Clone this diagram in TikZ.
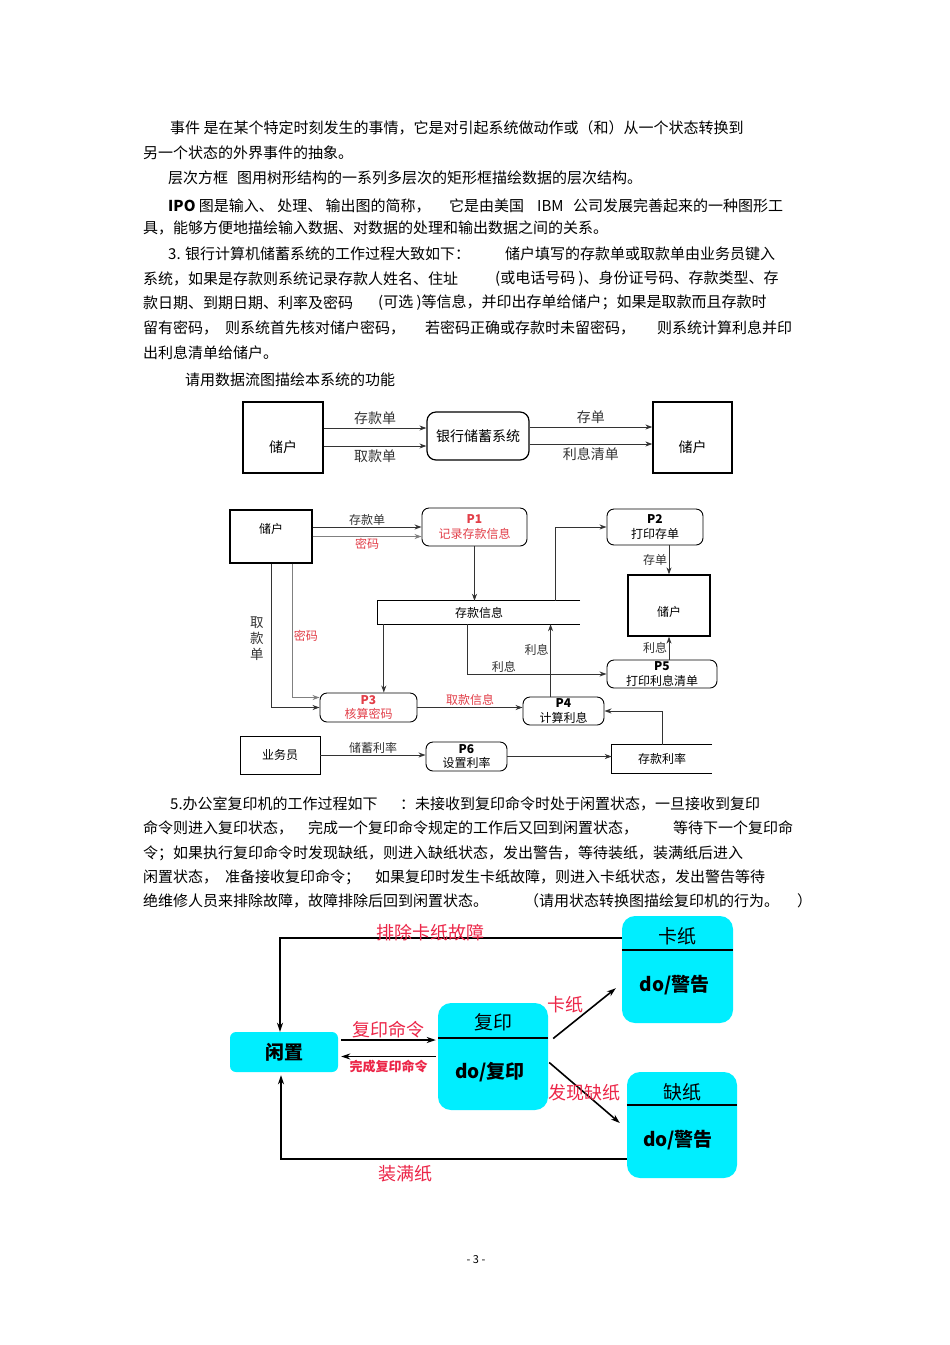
\documentclass[tikz,border=0pt]{standalone}
\usepackage{fontspec}
\setmainfont{Noto Sans CJK SC}
\usepackage{tikz}
\usetikzlibrary{arrows.meta, positioning, calc}
\definecolor{dfdred}{RGB}{226,62,72}
\definecolor{stred}{RGB}{236,38,72}
\definecolor{stcyan}{RGB}{0,238,255}
\newcommand{\dfdfont}{\fontsize{12}{14.5}\selectfont}
\newcommand{\ctxfont}{\fontsize{14}{16}\selectfont}

\begin{document}
\begin{tikzpicture}[x=1pt, y=-1pt,
        txt/.style={anchor=west, inner sep=0pt, font=\fontsize{15}{17}\selectfont},
        ext/.style={rectangle, draw, line width=1.3pt, inner sep=1pt},
        proc/.style={rectangle, draw, rounded corners=7pt, line width=0.9pt, align=center, inner sep=1pt},
        lab/.style={inner sep=1.5pt, font=\dfdfont},
        arr/.style={-{Stealth[length=7pt, width=5pt]}, line width=0.9pt, black!80},
        state/.style={rectangle, fill=stcyan, rounded corners=13pt, inner sep=0pt},
        stxt/.style={inner sep=0pt, font=\fontsize{19}{21}\selectfont},
        sep/.style={line width=1.6pt},
        sarr/.style={-{Stealth[length=9pt, width=6pt]}, line width=1.6pt},
        slab/.style={inner sep=1pt, text=stred, font=\fontsize{18}{20}\selectfont},
    ]
    \fill[white] (0,0) rectangle (950,1345);
    \useasboundingbox (0,0) rectangle (950,1345);

    % 正文
    \foreach \px/\py/\ptext [count=\i] in {
        170/128/{事件 是在某个特定时刻发生的事情，它是对引起系统做动作或（和）从一个状态转换到},
        143/153/{另一个状态的外界事件的抽象。},
        168/178/{层次方框},
        237/178/{图用树形结构的一系列多层次的矩形框描绘数据的层次结构。},
        168/206/{\textbf{IPO} 图是输入、 处理、 输出图的简称，},
        449/206/{它是由美国},
        537/206/{IBM},
        573/206/{公司发展完善起来的一种图形工},
        143/228/{具，能够方便地描绘输入数据、对数据的处理和输出数据之间的关系。},
        168/254/{3. 银行计算机储蓄系统的工作过程大致如下：},
        505/254/{储户填写的存款单或取款单由业务员键入},
        143/279/{系统，如果是存款则系统记录存款人姓名、住址},
        495/279/{(或电话号码 )、身份证号码、存款类型、存},
        143/303/{款日期、到期日期、利率及密码},
        378/303/{(可选 )等信息，并印出存单给储户；如果是取款而且存款时},
        143/328/{留有密码，},
        225/328/{则系统首先核对储户密码，},
        425/328/{若密码正确或存款时未留密码，},
        657/328/{则系统计算利息并印},
        143/353/{出利息清单给储户。},
        185/380/{请用数据流图描绘本系统的功能},
        170/804/{5.办公室复印机的工作过程如下},
        400/804/{：未接收到复印命令时处于闲置状态，一旦接收到复印},
        143/828/{命令则进入复印状态，},
        308/828/{完成一个复印命令规定的工作后又回到闲置状态，},
        673/828/{等待下一个复印命},
        143/853/{令；如果执行复印命令时发现缺纸，则进入缺纸状态，发出警告，等待装纸，装满纸后进入},
        143/877/{闲置状态，},
        225/877/{准备接收复印命令；},
        375/877/{如果复印时发生卡纸故障，则进入卡纸状态，发出警告等待},
        143/901/{绝维修人员来排除故障，故障排除后回到闲置状态。},
        524/901/{（请用状态转换图描绘复印机的行为。},
        797/901/{）}}
        \node[txt] (para\i) at (\px,\py) {\ptext};

    % 顶层数据流图
    \node[ext, minimum width=80pt, minimum height=71pt, font=\ctxfont] (cu1) at (283,437.5) {\raisebox{-15pt}[0pt][0pt]{储户}};
    \node[proc, minimum width=102pt, minimum height=48pt, rounded corners=9pt, line width=1.2pt, font=\ctxfont] (bank) at (478,436) {银行储蓄系统};
    \node[ext, minimum width=79pt, minimum height=71pt, font=\ctxfont] (cu2) at (692.5,437.5) {\raisebox{-15pt}[0pt][0pt]{储户}};
    \draw[arr] ($(cu1.east)+(0,-9.5)$) -- node[above, font=\ctxfont]{存款单} ($(cu1.east -| bank.west)+(0,-9.5)$);
    \draw[arr] ($(cu1.east)+(0,8.5)$) -- node[below, font=\ctxfont]{取款单} ($(cu1.east -| bank.west)+(0,8.5)$);
    \draw[arr] ($(bank.east)+(0,-9)$) -- node[above, font=\ctxfont]{存单} ($(bank.east -| cu2.west)+(0,-9)$);
    \draw[arr] ($(bank.east)+(0,8)$) -- node[below, font=\ctxfont]{利息清单} ($(bank.east -| cu2.west)+(0,8)$);

    % 细化数据流图
    \node[ext, minimum width=82pt, minimum height=53pt, font=\dfdfont] (c3) at (271,536.5) {\raisebox{3.5pt}[0pt][0pt]{储户}};
    \node[proc, text=dfdred, minimum width=105pt, minimum height=38pt, font=\dfdfont] (P1) at (474.5,527) {\textbf{P1}\\记录存款信息};
    \node[lab, minimum width=202pt, minimum height=23pt] (store) at (479,612.5) {存款信息};
    \draw[line width=0.9pt] (store.north east) -- (store.north west) -- (store.south west) -- (store.south east);
    \node[proc, minimum width=96pt, minimum height=36pt, font=\dfdfont] (P2) at (655,527) {\textbf{P2}\\打印存单};
    \node[ext, minimum width=82pt, minimum height=61pt, font=\dfdfont] (c4) at (669,605.5) {\raisebox{-11pt}[0pt][0pt]{储户}};
    \node[proc, minimum width=110pt, minimum height=28pt, font=\dfdfont] (P5) at (662,674) {\textbf{P5}\\打印利息清单};
    \node[proc, minimum width=81pt, minimum height=28pt, font=\dfdfont] (P4) at (563.5,711) {\textbf{P4}\\计算利息};
    \node[proc, text=dfdred, minimum width=97pt, minimum height=29pt, font=\dfdfont] (P3) at (368.5,707.5) {\textbf{P3}\\核算密码};
    \node[lab, minimum width=100pt, minimum height=28pt] (rate) at (662,759) {存款利率};
    \draw[line width=0.9pt] (rate.north east) -- (rate.north west) -- (rate.south west) -- (rate.south east);
    \node[ext, minimum width=80pt, minimum height=38pt, line width=0.9pt, font=\dfdfont] (clerk) at (280,755) {业务员};
    \node[proc, minimum width=81pt, minimum height=29pt, font=\dfdfont] (P6) at (466.5,756.5) {\textbf{P6}\\设置利率};

    % 储户 -> P1
    \draw[arr] (c3.east |- P1.west) -- node[lab, above]{存款单} (P1.west);
    \draw[arr, gray] (c3.east) -- node[lab, below, text=dfdred]{密码} (c3.east -| P1.west);
    % P1 -> 存款信息
    \draw[arr] (P1.south) -- (P1.south |- store.north);
    % 存款信息 -> P2 -> 储户
    \draw[arr] ($(store.north east)+(-25,0)$) |- (P2.west);
    \draw[arr] (c4.north |- P2.south) -- node[lab, left]{存单} (c4.north);
    % P5 -> 储户
    \draw[arr] (c4.south |- P5.north) -- node[lab, left]{利息} (c4.south);
    % 存款信息 -> P5
    \draw[arr] ($(store.south west)+(90,0)$) |- node[lab, above, pos=0.63]{利息} (P5.west);
    % P4 -> 存款信息
    \coordinate (p4up) at ($(P4.north west)+(28,0)$);
    \draw[arr] (p4up) -- node[lab, left, pos=0.65]{利息} (p4up |- store.south);
    % 存款信息 -> P3
    \coordinate (s3) at ($(store.south west)+(6,0)$);
    \draw[arr] (s3) -- (s3 |- P3.north);
    % 储户 -> P3（取款单，密码）
    \draw[arr] (c3.south) |- node[left, pos=0.26, align=center, inner sep=7pt, font=\fontsize{13.5}{16}\selectfont]{取\\款\\单} (P3.west);
    \draw[arr, gray] ($(c3.south)+(21,0)$) |- node[lab, right, pos=0.27, text=dfdred]{密码} ($(P3.west)+(0,-10)$);
    % P3 -> P4
    \draw[arr] (P3.east) -- node[lab, above, text=dfdred]{取款信息} (P3.east -| P4.west);
    % 存款利率 -> P4
    \draw[arr] (rate.north) |- (P4.east);
    % 业务员 -> P6 -> 存款利率
    \draw[arr] (clerk.east) -- node[lab, above]{储蓄利率} (clerk.east -| P6.west);
    \draw[arr] (P6.east) -- (P6.east -| rate.west);

    % 状态转换图
    \node[state, minimum width=108pt, minimum height=40pt, rounded corners=6pt, font=\fontsize{19}{21}\selectfont\bfseries] (idle) at (284,1052) {闲置};
    \node[state, minimum width=110pt, minimum height=107pt] (copy) at (493,1056.5) {};
    \draw[sep] ($(copy.north west)+(0,35)$) -- ($(copy.north east)+(0,35)$);
    \node[stxt] (copyT) at ($(copy.north)+(0,19)$) {复印};
    \node[stxt, font=\fontsize{19}{21}\selectfont\bfseries] (copyB) at ($(copy.north)+(-3,69)$) {do/复印};
    \node[state, minimum width=111pt, minimum height=107pt] (jam) at (677.5,969.5) {};
    \draw[sep] ($(jam.north west)+(0,34)$) -- ($(jam.north east)+(0,34)$);
    \node[stxt] (jamT) at ($(jam.north)+(0,20)$) {卡纸};
    \node[stxt, font=\fontsize{19}{21}\selectfont\bfseries] (jamB) at ($(jam.north)+(-3,69)$) {do/警告};
    \node[state, minimum width=110pt, minimum height=106pt] (nop) at (682,1125) {};
    \draw[sep] ($(nop.north west)+(0,33)$) -- ($(nop.north east)+(0,33)$);
    \node[stxt] (nopT) at ($(nop.north)+(0,20)$) {缺纸};
    \node[stxt, font=\fontsize{19}{21}\selectfont\bfseries] (nopB) at ($(nop.north)+(-4,68)$) {do/警告};

    % 闲置 <-> 复印
    \draw[sarr] ($(idle.east)+(3,-12)$) -- node[slab, above]{复印命令} ($(idle.east -| copy.west)+(-2,-12)$);
    \draw[sarr] ($(copy.west)+(-2,0)$) -- node[below, inner sep=3pt, text=stred, font=\fontsize{13}{15}\selectfont\bfseries]{完成复印命令} ($(copy.west -| idle.east)+(3,0)$);
    % 复印 -> 卡纸 / 缺纸
    \draw[sarr] ($(copy.east)+(5,-18)$) -- node[slab, midway, above left, inner sep=0pt]{卡纸} ($(jam.south west)+(-6,-35)$);
    \draw[sarr] ($(copy.east)+(1,6)$) -- node[slab, midway]{发现缺纸} ($(nop.west)+(-7,-2)$);
    % 回到闲置
    \draw[sarr] ($(jam.north west)+(0,22)$) -| node[slab, pos=0.28, yshift=5pt]{排除卡纸故障} ($(idle.north)+(-4,0)$);
    \draw[sarr] ($(nop.south west)+(0,-19)$) -| node[slab, pos=0.32, below, inner sep=5pt]{装满纸} ($(idle.south)+(-3,3)$);

    \node[font=\fontsize{11}{12}\selectfont] (pagenum) at (476,1260) {- 3 -};
\end{tikzpicture}
\end{document}
